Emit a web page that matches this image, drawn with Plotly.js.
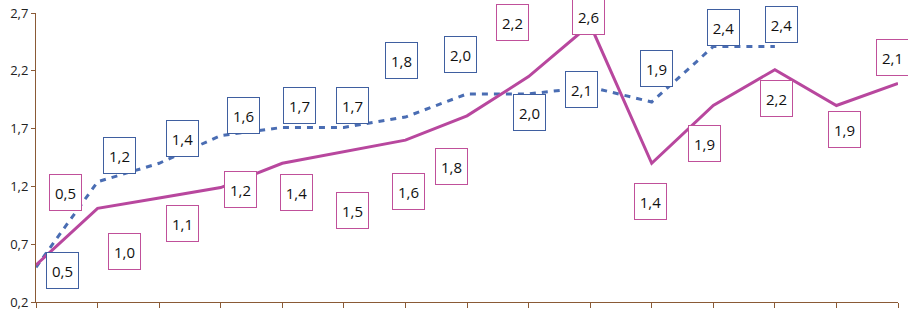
<!DOCTYPE html>
<html>
<head>
<meta charset="utf-8">
<script src="https://cdn.plot.ly/plotly-3.0.1.min.js"></script>
<style>html,body{margin:0;padding:0;background:#fff;}#chart{width:908px;height:311px;}</style>
</head>
<body>
<div id="chart"></div>
<script>
// Data
const categories = [1,2,3,4,5,6,7,8,9,10,11,12,13,14,15];
const seriesPink = [0.52, 1.01, 1.10, 1.19, 1.40, 1.50, 1.60, 1.81, 2.15, 2.60, 1.40, 1.90, 2.21, 1.90, 2.09];
const seriesBlue = [0.50, 1.24, 1.40, 1.64, 1.71, 1.71, 1.80, 2.00, 2.00, 2.06, 1.93, 2.41, 2.41];
const pinkLabels = ["0,5","1,0","1,1","1,2","1,4","1,5","1,6","1,8","2,2","2,6","1,4","1,9","2,2","1,9","2,1"];
const blueLabels = ["0,5","1,2","1,4","1,6","1,7","1,7","1,8","2,0","2,0","2,1","1,9","2,4","2,4"];
const yTickVals = [0.2, 0.7, 1.2, 1.7, 2.2, 2.7];

// Label offsets in pixels (dx right, dy down) – layout only
const pinkOffsets = [[29,-73],[27,43],[23,26],[20,2],[14,29],[9,59],[3,51],[-16,51],[-16,-54],[-2,-8],[-1,38],[-9,38],[2,29],[8,24],[-6,-26]];
const blueOffsets = [[26,3],[22,-26],[23,-25],[23,-20],[17,-22],[9,-22],[-4,-57],[-7,-39],[1,19],[-9,3],[5,-34],[10,-19],[7,-22]];

const PINK = '#B8479E';
const PINKBOX = '#C0509A';
const BLUE = '#4A6DB3';
const BLUEBOX = '#3F5FA0';
const AXIS = '#8A5A36';

const xPink = categories.map((c,i)=>i);
const xBlue = seriesBlue.map((v,i)=>i);

const traces = [
  {x: xBlue, y: seriesBlue, type:'scatter', mode:'lines', line:{color:BLUE, width:3, dash:'6px,6px'}, cliponaxis:false, hoverinfo:'none'},
  {x: xPink, y: seriesPink, type:'scatter', mode:'lines', line:{color:PINK, width:3}, cliponaxis:false, hoverinfo:'none'}
];

function mkAnn(x, y, text, off, color){
  return {x:x, y:y, xref:'x', yref:'y', text:text, showarrow:false,
    xshift:off[0], yshift:-off[1],
    font:{family:'Open Sans, Liberation Sans, sans-serif', size:15, color:'#111'},
    bgcolor:'#ffffff', bordercolor:color, borderwidth:1, borderpad:1,
    width:29, height:33, align:'center', valign:'middle'};
}
const annotations = [];
seriesBlue.forEach((v,i)=>annotations.push(mkAnn(xBlue[i], v, blueLabels[i], blueOffsets[i], BLUEBOX)));
seriesPink.forEach((v,i)=>annotations.push(mkAnn(xPink[i], v, pinkLabels[i], pinkOffsets[i], PINKBOX)));

const layout = {
  width:908, height:311,
  margin:{l:36, r:10, t:13, b:9, pad:0},
  paper_bgcolor:'#fff', plot_bgcolor:'#fff',
  separators:', ',
  showlegend:false,
  xaxis:{range:[0,14], tickvals:xPink, showticklabels:false, ticks:'outside', ticklen:5, tickcolor:AXIS, tickwidth:1,
    showline:true, linecolor:AXIS, linewidth:1, showgrid:false, zeroline:false, fixedrange:true},
  yaxis:{range:[0.2,2.7], tickvals:yTickVals, tickformat:'.1f', ticks:'outside', ticklen:4, tickcolor:AXIS, tickwidth:1,
    showline:true, linecolor:AXIS, linewidth:1, showgrid:false, zeroline:false,
    tickfont:{family:'Open Sans, Liberation Sans, sans-serif', size:13, color:'#222'}, fixedrange:true},
  annotations: annotations
};
Plotly.newPlot('chart', traces, layout, {staticPlot:true, displayModeBar:false});
</script>
</body>
</html>
